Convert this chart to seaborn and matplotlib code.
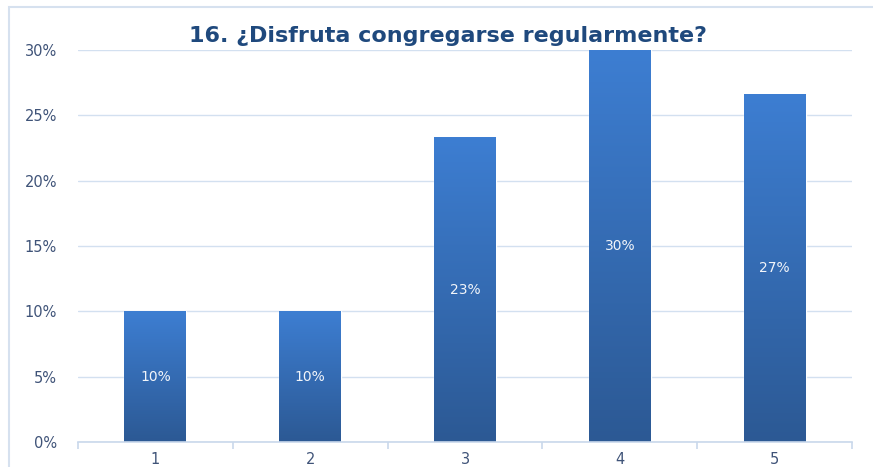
import numpy as np
import pandas as pd
import matplotlib
matplotlib.use("Agg")
import matplotlib.pyplot as plt
from matplotlib.colors import LinearSegmentedColormap
from matplotlib.patches import Rectangle
from matplotlib.ticker import FuncFormatter
import seaborn as sns

categories = ["1", "2", "3", "4", "5"]
percents = [10.0, 10.0, 23.33, 30.0, 26.67]
title = "16. ¿Disfruta congregarse regularmente?"

W, H = 873, 467

sns.set_style("white")
plt.rcParams["font.family"] = ["DejaVu Sans"]

fig = plt.figure(figsize=(W / 100, H / 100), dpi=100)
ax = fig.add_axes([78 / W, 25 / H, (852 - 78) / W, (442 - 50) / H])

df = pd.DataFrame({"cat": categories, "pct": percents})
sns.barplot(data=df, x="cat", y="pct", color="#3A78C6", width=0.4,
            saturation=1, ax=ax)

# vertical gradient on each bar
grad = LinearSegmentedColormap.from_list("bar", ["#2C5994", "#3D7ED2"])
gimg = np.linspace(0, 1, 256).reshape(-1, 1)
for p in ax.patches:
    x0, y0 = p.get_x(), p.get_y()
    w, h = p.get_width(), p.get_height()
    im = ax.imshow(gimg, cmap=grad, origin="lower", aspect="auto",
                   extent=[x0, x0 + w, y0, y0 + h], zorder=2)
    im.set_clip_path(p)
    ax.text(x0 + w / 2, y0 + h / 2, f"{h:.0f}%", ha="center", va="center",
            color="#F2F5FA", fontsize=10, zorder=3)

ax.set_xlim(-0.5, len(categories) - 0.5)
ax.set_ylim(0, 30)
ax.set_yticks(np.arange(0, 31, 5))
ax.yaxis.set_major_formatter(FuncFormatter(lambda v, _: f"{v:.0f}%"))
ax.set_xlabel("")
ax.set_ylabel("")

ax.grid(axis="y", color="#D3E0F0", linewidth=1)
ax.set_axisbelow(True)
for s in ["top", "right", "left"]:
    ax.spines[s].set_visible(False)
ax.spines["bottom"].set_color("#C9D8EB")
ax.spines["bottom"].set_linewidth(1.2)

ax.tick_params(axis="y", length=0, pad=15, labelsize=10.5, labelcolor="#3F5378")
ax.tick_params(axis="x", length=0, pad=7, labelsize=10.5, labelcolor="#3F5378")
# boundary tick marks between categories
ax.set_xticks(np.arange(-0.5, len(categories), 1), minor=True)
ax.tick_params(axis="x", which="minor", bottom=True, length=5,
               color="#C9D8EB", width=1.2)

# chart frame
fig.patches.append(Rectangle((9 / W, -0.1), 1.2, (H - 7) / H + 0.1,
                             transform=fig.transFigure, fill=False,
                             edgecolor="#D6E1EF", linewidth=1.5))

fig.text(448 / W, 1 - 36 / H, title, ha="center", va="center",
         fontsize=16, fontweight="bold", color="#1F497D")

fig.savefig("out.png", dpi=100)
